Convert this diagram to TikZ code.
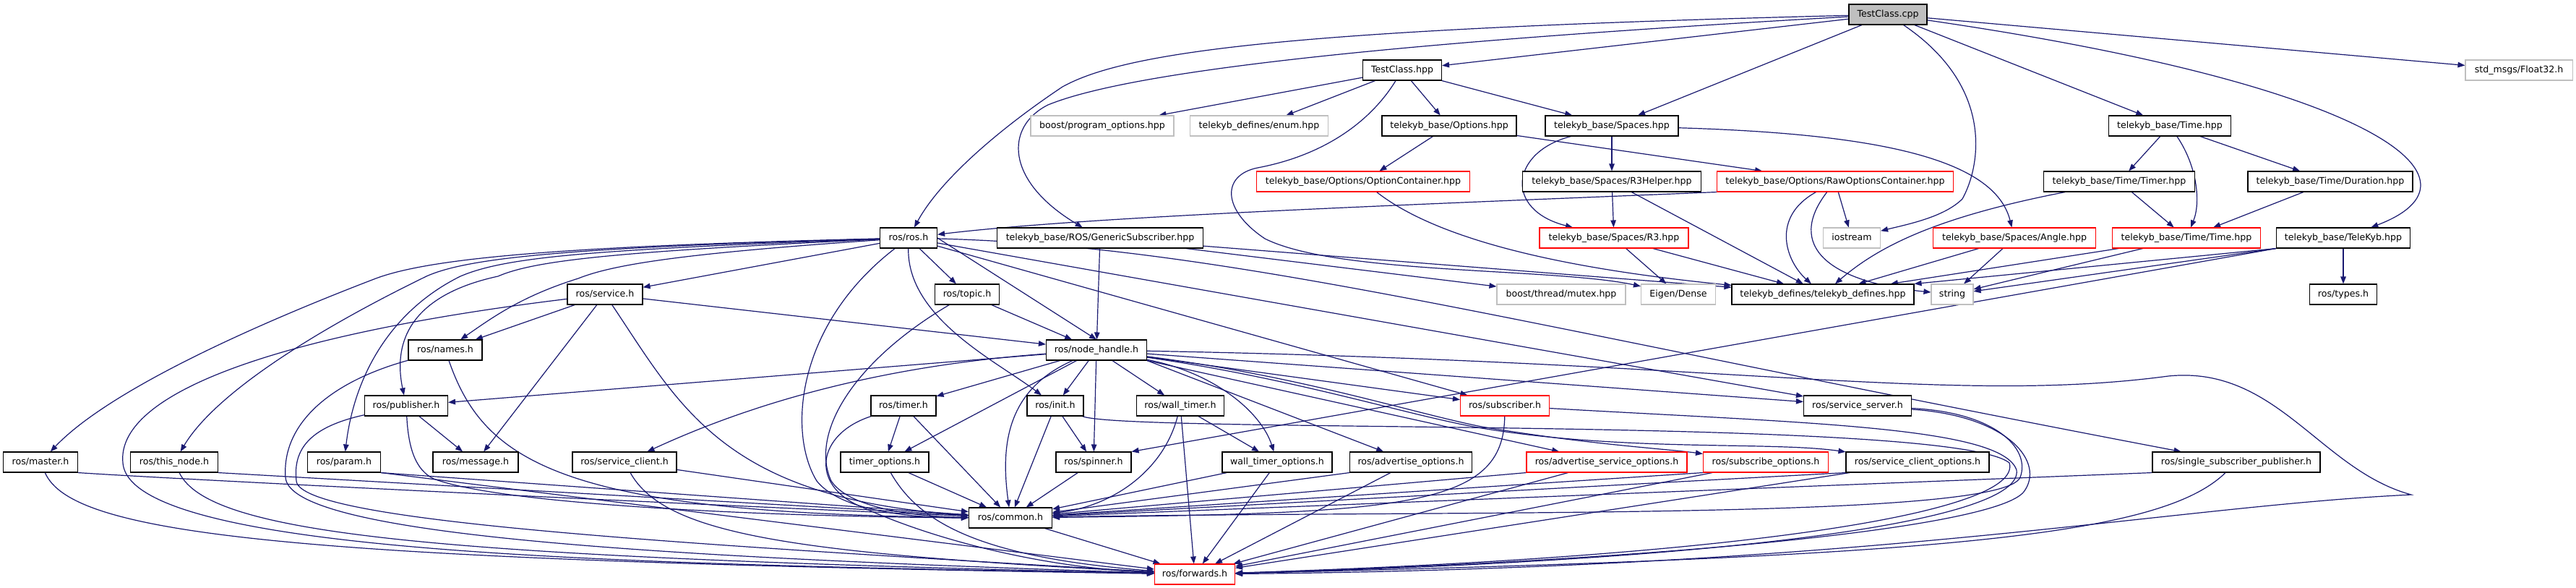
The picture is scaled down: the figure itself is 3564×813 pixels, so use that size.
\documentclass[tikz,border=0pt]{standalone}
\usepackage{fontspec}
\setmainfont{DejaVu Sans}
\usetikzlibrary{arrows.meta}
\definecolor{edgec}{HTML}{191970}
\definecolor{grayb}{HTML}{BFBFBF}
\definecolor{redb}{HTML}{FF0000}
\newcommand\dvfont{\fontsize{12.6pt}{15pt}\selectfont}
\pgfdeclarelayer{paper}
\pgfdeclarelayer{edges}
\pgfsetlayers{paper,edges,main}
\tikzset{
  nb/.style={draw=black, line width=1.1pt, fill=white, minimum height=28pt, inner sep=0pt, text height=9.4pt, text depth=2.6pt, font=\dvfont},
  nr/.style={nb, draw=redb},
  ng/.style={nb, draw=grayb},
  ncpp/.style={nb, fill=grayb},
  e/.style={draw=edgec, line width=1.2pt, -{Triangle[length=10pt,width=7.5pt]}}
}
\begin{document}
\begin{tikzpicture}[x=1pt,y=-1pt]
\begin{pgfonlayer}{paper}
\fill[white] (0,0) rectangle (3564,813);
\end{pgfonlayer}
\useasboundingbox (0,0) rectangle (3564,813);
% row A/B/C
\node[ncpp, minimum width=108pt] (cpp) at (2612,20) {TestClass.cpp};
\node[nb, minimum width=109pt] (hpp) at (1940,97) {TestClass.hpp};
\node[ng, minimum width=148pt] (f32) at (3485,97) {std\_msgs/Float32.h};
\node[ng, minimum width=198pt] (bpo) at (1525,174) {boost/program\_options.hpp};
\node[ng, minimum width=191pt] (enm) at (1742,174) {telekyb\_defines/enum.hpp};
\node[nb, minimum width=186pt] (opt) at (2005,174) {telekyb\_base/Options.hpp};
\node[nb, minimum width=184pt] (spc) at (2230,174) {telekyb\_base/Spaces.hpp};
\node[nb, minimum width=169pt] (tim) at (3002,174) {telekyb\_base/Time.hpp};
% row D
\node[nr, minimum width=295pt] (ocn) at (1886,251) {telekyb\_base/Options/OptionContainer.hpp};
\node[nb, minimum width=247pt] (r3h) at (2230,251) {telekyb\_base/Spaces/R3Helper.hpp};
\node[nr, minimum width=327pt] (roc) at (2539,251) {telekyb\_base/Options/RawOptionsContainer.hpp};
\node[nb, minimum width=209pt] (tmr) at (2932,251) {telekyb\_base/Time/Timer.hpp};
\node[nb, minimum width=228pt] (dur) at (3224,251) {telekyb\_base/Time/Duration.hpp};
% row E
\node[nb, minimum width=79pt] (ros) at (1257,329) {ros/ros.h};
\node[nb, minimum width=285pt] (gen) at (1522,329) {telekyb\_base/ROS/GenericSubscriber.hpp};
\node[nr, minimum width=206pt] (r3) at (2233,329) {telekyb\_base/Spaces/R3.hpp};
\node[ng, minimum width=79pt] (ios) at (2562,329) {iostream};
\node[nr, minimum width=225pt] (ang) at (2787,329) {telekyb\_base/Spaces/Angle.hpp};
\node[nr, minimum width=205pt] (ttm) at (3025,329) {telekyb\_base/Time/Time.hpp};
\node[nb, minimum width=185pt] (tkb) at (3242,329) {telekyb\_base/TeleKyb.hpp};
% row F
\node[nb, minimum width=104pt] (srv) at (837,407) {ros/service.h};
\node[nb, minimum width=89pt] (top) at (1338,407) {ros/topic.h};
\node[ng, minimum width=178pt] (mtx) at (2160,407) {boost/thread/mutex.hpp};
\node[ng, minimum width=103pt] (eig) at (2322,407) {Eigen/Dense};
\node[nb, minimum width=252pt] (tkd) at (2522,407) {telekyb\_defines/telekyb\_defines.hpp};
\node[ng, minimum width=58pt] (str) at (2701,407) {string};
\node[nb, minimum width=93pt] (typ) at (3242,407) {ros/types.h};
% row G
\node[nb, minimum width=102pt] (nam) at (616,484) {ros/names.h};
\node[nb, minimum width=139pt] (nh) at (1517,484) {ros/node\_handle.h};
% row H
\node[nb, minimum width=115pt] (pub) at (562,561) {ros/publisher.h};
\node[nb, minimum width=90pt] (tmh) at (1250,561) {ros/timer.h};
\node[nb, minimum width=78pt] (ini) at (1460,561) {ros/init.h};
\node[nb, minimum width=121pt] (wtm) at (1633,561) {ros/wall\_timer.h};
\node[nr, minimum width=123pt] (sub) at (2082,561) {ros/subscriber.h};
\node[nb, minimum width=149pt] (ssv) at (2570,561) {ros/service\_server.h};
% row I
\node[nb, minimum width=103pt] (mst) at (56,639) {ros/master.h};
\node[nb, minimum width=121pt] (thn) at (241,639) {ros/this\_node.h};
\node[nb, minimum width=101pt] (prm) at (476,639) {ros/param.h};
\node[nb, minimum width=118pt] (msg) at (658,639) {ros/message.h};
\node[nb, minimum width=144pt] (scl) at (864,639) {ros/service\_client.h};
\node[nb, minimum width=122pt] (tmo) at (1224,639) {timer\_options.h};
\node[nb, minimum width=104pt] (spn) at (1513,639) {ros/spinner.h};
\node[nb, minimum width=152pt] (wto) at (1767,639) {wall\_timer\_options.h};
\node[nb, minimum width=169pt] (ado) at (1952,639) {ros/advertise\_options.h};
\node[nr, minimum width=222pt] (aso) at (2223,639) {ros/advertise\_service\_options.h};
\node[nr, minimum width=173pt] (sbo) at (2443,639) {ros/subscribe\_options.h};
\node[nb, minimum width=198pt] (sco) at (2653,639) {ros/service\_client\_options.h};
\node[nb, minimum width=232pt] (ssp) at (3094,639) {ros/single\_subscriber\_publisher.h};
% rows J/K
\node[nb, minimum width=115pt] (cmn) at (1398,716) {ros/common.h};
\node[nr, minimum width=111pt] (fwd) at (1653,794) {ros/forwards.h};

\begin{pgfonlayer}{edges}
% TestClass.cpp
\draw[e] (cpp) -- (hpp);
\draw[e] (cpp) .. controls (1800,40) and (1560,70) .. (1470,120) .. controls (1380,180) and (1300,250) .. (ros);
\draw[e] (cpp) .. controls (1900,60) and (1560,100) .. (1450,145) .. controls (1390,175) and (1390,250) .. (gen);
\draw[e] (cpp) -- (spc);
\draw[e] (cpp) .. controls (2760,120) and (2740,230) .. (2715,275) .. controls (2690,300) and (2640,310) .. (ios);
\draw[e] (cpp) -- (tim);
\draw[e] (cpp) .. controls (3300,120) and (3450,250) .. (tkb);
\draw[e] (cpp) -- (f32);
% TestClass.hpp
\draw[e] (hpp) -- (bpo);
\draw[e] (hpp) -- (enm);
\draw[e] (hpp) -- (opt);
\draw[e] (hpp) -- (spc);
\draw[e] (hpp) .. controls (1895,170) and (1830,215) .. (1740,232) .. controls (1690,242) and (1690,290) .. (1750,330) .. controls (1850,380) and (2150,370) .. (eig);
% options / spaces / time
\draw[e] (opt) -- (ocn);
\draw[e] (opt) -- (roc);
\draw[e] (spc) -- (r3h);
\draw[e] (spc) .. controls (2090,210) and (2080,290) .. (r3);
\draw[e] (spc) .. controls (2600,185) and (2760,220) .. (ang);
\draw[e] (tim) -- (tmr);
\draw[e] (tim) .. controls (3040,230) and (3045,280) .. (ttm);
\draw[e] (tim) -- (dur);
% row D
\draw[e] (ocn) .. controls (2000,340) and (2200,375) .. (tkd);
\draw[e] (r3h) -- (r3);
\draw[e] (r3h) -- (tkd);
\draw[e] (roc.south west) .. controls (1900,285) and (1500,300) .. (ros);
\draw[e] (roc) .. controls (2450,300) and (2470,360) .. (tkd);
\draw[e] (roc) .. controls (2470,340) and (2530,390) .. (str);
\draw[e] (roc) -- (ios);
\draw[e] (tmr) -- (ttm);
\draw[e] (tmr) .. controls (2680,300) and (2600,340) .. (tkd);
\draw[e] (dur) -- (ttm);
% row E
\draw[e] (gen) -- (nh);
\draw[e] (gen) -- (mtx);
\draw[e] (gen) -- (tkd);
\draw[e] (r3) -- (eig);
\draw[e] (r3) -- (tkd);
\draw[e] (ang) -- (tkd);
\draw[e] (ang) -- (str);
\draw[e] (ttm) -- (tkd);
\draw[e] (ttm) -- (str);
\draw[e] (tkb.south west) -- (tkd.north east);
\draw[e] (tkb.south west) -- (str);
\draw[e] (tkb) -- (typ);
\draw[e] (tkb.south west) -- (spn.north east);
% ros/ros.h
\draw[e] (ros) -- (srv);
\draw[e] (ros) .. controls (950,350) and (850,365) .. (800,385) .. controls (720,410) and (680,440) .. (nam);
\draw[e] (ros) .. controls (850,348) and (740,360) .. (689,382) .. controls (560,410) and (545,480) .. (pub);
\draw[e] (ros) .. controls (820,345) and (700,355) .. (637,382) .. controls (540,430) and (490,520) .. (prm);
\draw[e] (ros) .. controls (800,342) and (650,355) .. (590,382) .. controls (450,450) and (300,540) .. (thn);
\draw[e] (ros) .. controls (800,340) and (600,355) .. (520,385) .. controls (350,450) and (150,540) .. (mst);
\draw[e] (ros) -- (top);
\draw[e] (ros.east) -- (nh.north);
\draw[e] (ros) .. controls (1100,450) and (1090,600) .. (1130,665) .. controls (1170,715) and (1300,716) .. (cmn);
\draw[e] (ros) .. controls (1255,440) and (1380,500) .. (ini);
\draw[e] (ros) -- (sub);
\draw[e] (ros) -- (ssv);
\draw[e] (ros) .. controls (1700,340) and (2100,450) .. (ssp);
% ros/service.h
\draw[e] (srv) -- (nh);
\draw[e] (srv) -- (nam);
\draw[e] (srv) -- (msg);
\draw[e] (srv) .. controls (940,560) and (1000,690) .. (cmn);
\draw[e] (srv) .. controls (400,460) and (160,540) .. (170,640) .. controls (180,770) and (900,780) .. (fwd);
% names, publisher
\draw[e] (nam) .. controls (670,640) and (780,710) .. (cmn);
\draw[e] (nam) .. controls (450,530) and (390,590) .. (395,660) .. controls (400,740) and (900,770) .. (fwd);
\draw[e] (pub) -- (msg);
\draw[e] (pub) .. controls (565,620) and (575,650) .. (600,662) .. controls (700,700) and (1100,715) .. (cmn);
\draw[e] (pub) .. controls (430,590) and (405,620) .. (410,665) .. controls (415,720) and (900,750) .. (fwd);
% row I left
\draw[e] (mst.south east) .. controls (250,663) and (900,695) .. (cmn);
\draw[e] (mst) .. controls (100,740) and (400,775) .. (fwd);
\draw[e] (thn.south east) -- (cmn);
\draw[e] (thn) .. controls (290,740) and (600,770) .. (fwd);
\draw[e] (prm.south east) -- (cmn);
\draw[e] (prm.south east) -- (fwd);
\draw[e] (scl) -- (cmn);
\draw[e] (scl) .. controls (920,740) and (1100,765) .. (fwd);
% topic
\draw[e] (top) -- (nh);
\draw[e] (top) .. controls (1180,500) and (1120,600) .. (1150,665) .. controls (1180,710) and (1300,715) .. (cmn);
% node_handle
\draw[e] (nh) -- (pub);
\draw[e] (nh) .. controls (1300,500) and (1100,530) .. (scl);
\draw[e] (nh) -- (tmh);
\draw[e] (nh) -- (tmo);
\draw[e] (nh) -- (ini);
\draw[e] (nh) -- (spn);
\draw[e] (nh) .. controls (1390,540) and (1385,620) .. (cmn);
\draw[e] (nh) -- (wtm);
\draw[e] (nh) .. controls (1680,515) and (1745,570) .. (wto);
\draw[e] (nh.south east) -- (ado);
\draw[e] (nh.south east) -- (aso);
\draw[e] (nh) .. controls (1800,520) and (1950,570) .. (2050,590) .. controls (2200,615) and (2300,620) .. (sbo);
\draw[e] (nh) .. controls (1800,525) and (1950,575) .. (2050,592) .. controls (2250,625) and (2450,610) .. (sco);
\draw[e] (nh) -- (sub);
\draw[e] (nh) -- (ssv);
\draw[e] (nh) .. controls (2400,500) and (2700,560) .. (3000,520) .. controls (3150,505) and (3210,650) .. (3336,684) .. controls (3000,700) and (2600,785) .. (fwd);
% timer, init, wall_timer
\draw[e] (tmh) -- (tmo);
\draw[e] (tmh) -- (cmn);
\draw[e] (tmh) .. controls (1130,600) and (1120,670) .. (1190,700) .. controls (1300,750) and (1450,785) .. (fwd);
\draw[e] (ini) -- (spn);
\draw[e] (ini) -- (cmn);
\draw[e] (ini) .. controls (1560,600) and (2700,575) .. (2780,640) .. controls (2800,710) and (2400,770) .. (fwd);
\draw[e] (wtm) -- (wto);
\draw[e] (wtm) .. controls (1610,650) and (1540,700) .. (cmn);
\draw[e] (wtm) -- (fwd);
% row I middle/right
\draw[e] (spn) -- (cmn);
\draw[e] (tmo) -- (cmn);
\draw[e] (tmo) .. controls (1270,720) and (1350,770) .. (fwd);
\draw[e] (wto) -- (cmn);
\draw[e] (wto) -- (fwd);
\draw[e] (ado.south west) -- (cmn);
\draw[e] (ado) -- (fwd);
\draw[e] (aso.south west) -- (cmn);
\draw[e] (aso) -- (fwd);
\draw[e] (sbo.south west) -- (cmn);
\draw[e] (sbo) -- (fwd);
\draw[e] (sco.south west) -- (cmn);
\draw[e] (sco) -- (fwd);
% subscriber, service_server, single_subscriber_publisher
\draw[e] (sub) .. controls (2080,700) and (1950,710) .. (cmn);
\draw[e] (sub) .. controls (2500,585) and (2770,590) .. (2790,650) .. controls (2800,720) and (2400,775) .. (fwd);
\draw[e] (ssv) .. controls (2760,570) and (2810,620) .. (2795,660) .. controls (2770,720) and (2000,705) .. (cmn);
\draw[e] (ssv) .. controls (2780,575) and (2830,640) .. (2800,680) .. controls (2760,730) and (2300,775) .. (fwd);
\draw[e] (ssp.south west) -- (cmn);
\draw[e] (ssp) .. controls (2990,740) and (2700,770) .. (fwd);
% common
\draw[e] (cmn) -- (fwd);
\end{pgfonlayer}
\end{tikzpicture}
\end{document}
